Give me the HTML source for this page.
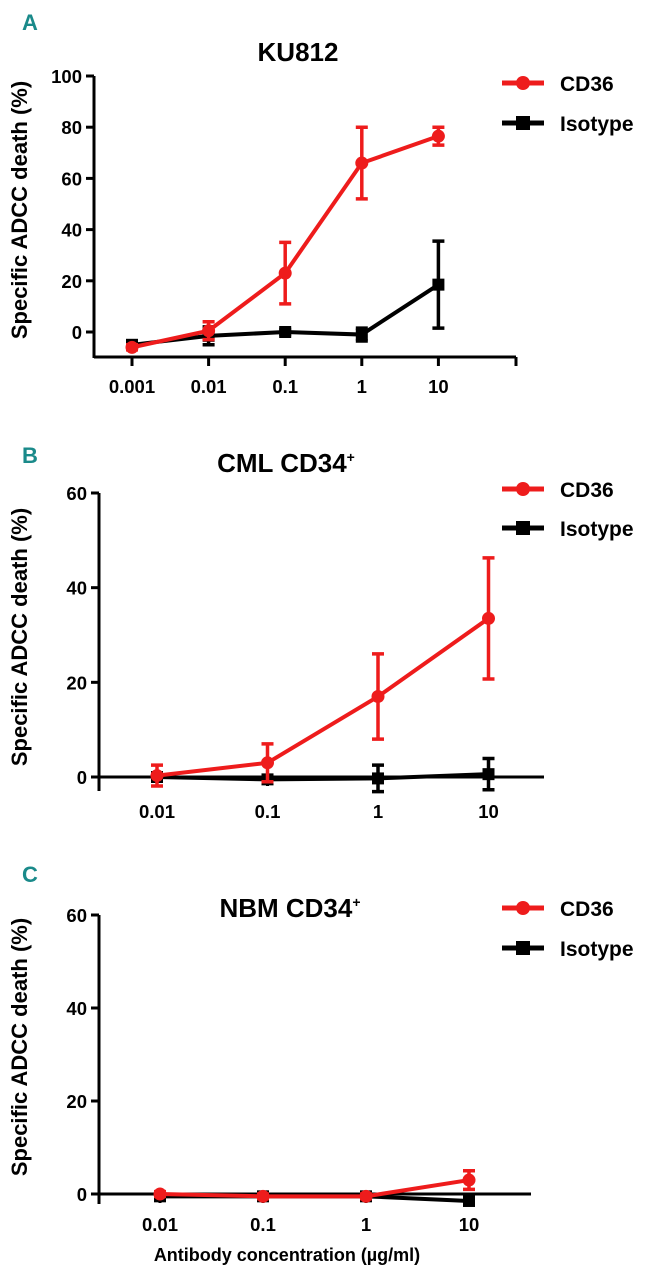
<!DOCTYPE html>
<html><head><meta charset="utf-8">
<style>
html,body{margin:0;padding:0;background:#fff;}
svg{display:block;font-family:"Liberation Sans",sans-serif;font-weight:bold;}
</style></head>
<body>
<svg id="fig" width="654" height="1280" viewBox="0 0 654 1280" xmlns="http://www.w3.org/2000/svg"></svg>
<script>
// Panel A (KU812)
const catsA = ["0.001","0.01","0.1","1","10"];
const cd36A = [-6, 0.5, 23, 66, 76.5];
const cd36ErrA = [1, 3.5, 12, 14, 3.5];
const isoA = [-5, -1.5, 0, -1, 18.5];
const isoErrA = [1, 3.5, 1, 2.5, 17];
const yTicksA = [0, 20, 40, 60, 80, 100];
// Panel B (CML CD34+)
const catsB = ["0.01","0.1","1","10"];
const cd36B = [0.3, 3, 17, 33.5];
const cd36ErrB = [2.2, 4, 9, 12.8];
const isoB = [0, -0.5, -0.3, 0.6];
const isoErrB = [0.5, 0.8, 2.8, 3.3];
const yTicksB = [0, 20, 40, 60];
// Panel C (NBM CD34+)
const catsC = ["0.01","0.1","1","10"];
const cd36C = [0, -0.5, -0.5, 3];
const cd36ErrC = [0.5, 0.5, 0.5, 2];
const isoC = [-0.5, -0.5, -0.5, -1.5];
const isoErrC = [0.3, 0.3, 0.3, 0.3];
const yTicksC = [0, 20, 40, 60];

const NS = "http://www.w3.org/2000/svg";
const svg = document.getElementById("fig");
function mk(tag, attrs, parent){
  const e = document.createElementNS(NS, tag);
  for (const k in attrs) e.setAttribute(k, attrs[k]);
  (parent||svg).appendChild(e);
  return e;
}
function txt(parent, x, y, s, size, anchor, fill){
  const t = mk("text", {x:x, y:y, "font-size":size, "text-anchor":anchor||"middle", fill:fill||"#000"}, parent);
  t.textContent = s;
  return t;
}

function panel(p){
  const g = mk("g", {});
  
  
  const yS = v => p.y0 + (v - 0) * (p.yTop - p.y0) / (p.yMax - 0);
  const xS = i => p.x0 + i * p.dx;
  const L = txt(g, p.letterX, p.letterY, p.letter, 22, "start", "#1a8a8a");
  
  
  const T = txt(g, p.titleX, p.titleY, p.title, 26, "middle");
  
  
  if (p.sup){ const s = mk("tspan", {"font-size":14, dy:-10}, T); s.textContent = "+"; }
  const ya = mk("line", {x1:p.axX, x2:p.axX, y1:p.yTop, y2:p.axBottom, stroke:"#000","stroke-width":3}, g);
  
  
  p.yTicks.forEach(v=>{
    const y = yS(v);
    mk("line", {x1:p.axX-8, x2:p.axX, y1:y, y2:y, stroke:"#000","stroke-width":3}, g);
    const tl = txt(g, p.axX-12, y+7, String(v), 18.5, "end");
    
    
  });
  const xa = mk("line", {x1:p.axX, x2:p.axEnd, y1:p.xAxisY, y2:p.xAxisY, stroke:"#000","stroke-width":3}, g);
  
  
  if (p.endTick) mk("line", {x1:p.axEnd, x2:p.axEnd, y1:p.xAxisY, y2:p.xAxisY+9, stroke:"#000","stroke-width":3}, g);
  p.cats.forEach((c,i)=>{
    const x = xS(i);
    mk("line", {x1:x, x2:x, y1:p.xAxisY, y2:p.xAxisY+9, stroke:"#000","stroke-width":3}, g);
    const tl = txt(g, x, p.tickLabelY, c, 18.5, "middle");
    
    
  });
  const yt = txt(g, 0, 0, "Specific ADCC death (%)", 22, "middle");
  yt.setAttribute("transform", "translate(" + p.yTitleX + "," + p.yTitleY + ") rotate(-90)");
  
  
  if (p.xTitle){
    const xt = txt(g, 287, 1261, p.xTitle, 18, "middle");
    
    
  }
  const series = [
    {name:"isotype", vals:p.iso, errs:p.isoErr, color:"#000", sq:true},
    {name:"cd36", vals:p.cd36, errs:p.cd36Err, color:"#ee1c1c", sq:false}
  ];
  series.forEach(s=>{
    const sg = mk("g", {}, g);
    
    
    s.vals.forEach((v,i)=>{
      const x = xS(i), e = s.errs[i];
      const eb = mk("path", {d:"M"+(x-6)+","+yS(v+e)+"H"+(x+6)+"M"+x+","+yS(v+e)+"V"+yS(v-e)+"M"+(x-6)+","+yS(v-e)+"H"+(x+6), stroke:s.color, "stroke-width":3.5, fill:"none"}, sg);
      
      
    });
    const pts = s.vals.map((v,i)=>xS(i)+","+yS(v)).join(" ");
    const pl = mk("polyline", {points:pts, stroke:s.color, "stroke-width":4, fill:"none"}, sg);
    
    
    s.vals.forEach((v,i)=>{
      const x = xS(i), y = yS(v);
      const m = s.sq ? mk("rect", {x:x-6, y:y-6, width:12, height:12, fill:s.color}, sg)
                     : mk("circle", {cx:x, cy:y, r:6.5, fill:s.color}, sg);
      
      
    });
  });
  const lg = mk("g", {}, g);
  
  
  const e1 = mk("g", {}, lg);
  
  
  mk("line", {x1:502, x2:544, y1:p.legY1, y2:p.legY1, stroke:"#ee1c1c","stroke-width":5}, e1);
  mk("circle", {cx:523, cy:p.legY1, r:7, fill:"#ee1c1c"}, e1);
  txt(e1, 560, p.legY1+8, "CD36", 21, "start");
  const e2 = mk("g", {}, lg);
  
  
  mk("line", {x1:502, x2:544, y1:p.legY2, y2:p.legY2, stroke:"#000","stroke-width":5}, e2);
  mk("rect", {x:516, y:p.legY2-7, width:14, height:14, fill:"#000"}, e2);
  txt(e2, 560, p.legY2+8, "Isotype", 21, "start");
}

panel({id:"ku812", letter:"A", letterX:22, letterY:30, title:"KU812", titleX:298, titleY:61, sup:false,
  axX:94, yTop:76, y0:332, yMax:100, axBottom:358, xAxisY:357, axEnd:516, endTick:true,
  x0:132, dx:76.6, tickLabelY:393, cats:catsA, cd36:cd36A, cd36Err:cd36ErrA, iso:isoA, isoErr:isoErrA,
  yTicks:yTicksA, yTitleX:27, yTitleY:210, legY1:83, legY2:123});
panel({id:"cml", letter:"B", letterX:22, letterY:463, title:"CML CD34", titleX:286, titleY:472, sup:true,
  axX:99, yTop:493, y0:777, yMax:60, axBottom:791, xAxisY:777, axEnd:544, endTick:false,
  x0:157, dx:110.5, tickLabelY:818, cats:catsB, cd36:cd36B, cd36Err:cd36ErrB, iso:isoB, isoErr:isoErrB,
  yTicks:yTicksB, yTitleX:27, yTitleY:637, legY1:489, legY2:528});
panel({id:"nbm", letter:"C", letterX:22, letterY:882, title:"NBM CD34", titleX:290, titleY:917, sup:true,
  axX:99, yTop:915, y0:1194, yMax:60, axBottom:1204, xAxisY:1194, axEnd:531, endTick:false,
  x0:160, dx:103, tickLabelY:1231, cats:catsC, cd36:cd36C, cd36Err:cd36ErrC, iso:isoC, isoErr:isoErrC,
  yTicks:yTicksC, yTitleX:27, yTitleY:1047, legY1:908, legY2:948, xTitle:"Antibody concentration (µg/ml)"});
</script>
</body></html>
